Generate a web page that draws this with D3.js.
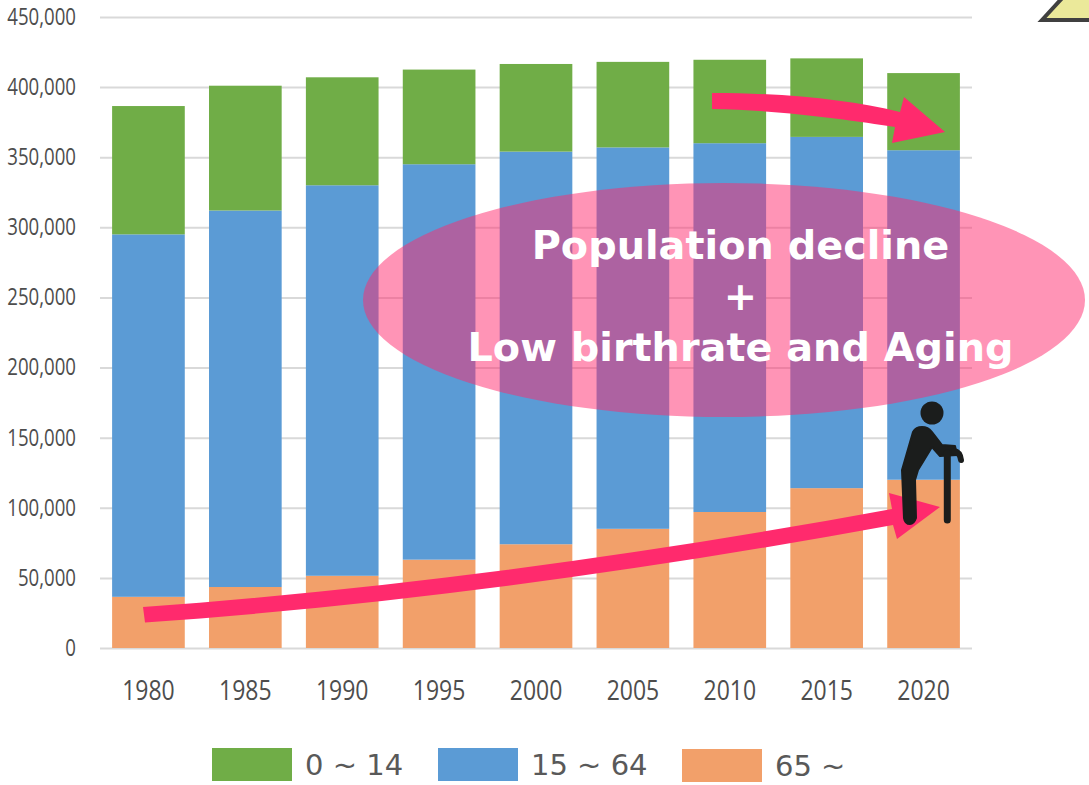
<!DOCTYPE html>
<html lang="en">
<head>
    <meta charset="UTF-8">
    <title>Population by age group</title>
    <script src="https://d3js.org/d3.v7.min.js"></script>
    <style>
        html, body { margin: 0; padding: 0; background: #fff; overflow: hidden; }
        svg { display: block; }
        .tick-label { font-family: "Open Sans", "Liberation Sans", sans-serif; fill: #4D4D4D; }
        .legend-label { font-family: "DejaVu Sans", sans-serif; font-size: 29px; fill: #595959; }
        .callout { font-family: "DejaVu Sans", sans-serif; font-weight: bold; font-size: 39.8px; fill: #fff; text-anchor: middle; }
    </style>
</head>
<body>
    <div id="chart"></div>
    <script>
        // Values
        const years = ["1980", "1985", "1990", "1995", "2000", "2005", "2010", "2015", "2020"];
        const age65plus = [36500, 43500, 51500, 63000, 74000, 85000, 97000, 114000, 120000];
        const age15to64 = [258500, 268500, 278500, 282000, 280000, 272000, 263000, 250500, 235000];
        const age0to14 = [91500, 89000, 77000, 67500, 62500, 61000, 59500, 56000, 55000];
        const yTicks = [0, 50000, 100000, 150000, 200000, 250000, 300000, 350000, 400000, 450000];

        const seriesNames = ["65 ~", "15 ~ 64", "0 ~ 14"];
        const seriesColors = ["#F2A06A", "#5B9BD5", "#70AD47"];

        const width = 1089, height = 785;
        const plot = {left: 100, right: 972, top: 17, bottom: 648};

        const svg = d3.select("#chart").append("svg")
            .attr("width", width)
            .attr("height", height);

        const x = d3.scaleBand().domain(years).range([plot.left, plot.right]).paddingInner(0.25).paddingOuter(0.125);
        const y = d3.scaleLinear().domain([0, 450000]).range([plot.bottom, plot.top]);

        // the original labels are a narrow face, so squeeze the installed one
        function narrow(sel, factor) {
            sel.each(function() {
                d3.select(this)
                    .attr("textLength", this.getComputedTextLength() * factor)
                    .attr("lengthAdjust", "spacingAndGlyphs");
            });
        }

        // Gridlines and y labels
        const yAxis = svg.append("g")
            .attr("transform", `translate(${plot.left},0)`)
            .call(d3.axisLeft(y).tickValues(yTicks).tickSize(0).tickPadding(24).tickFormat(d3.format(",")));
        yAxis.select(".domain").remove();
        yAxis.selectAll("text").attr("class", "tick-label").style("font-size", "23px").attr("fill", null).call(narrow, 0.81);
        yAxis.selectAll(".tick").append("line")
            .attr("x2", plot.right - plot.left)
            .attr("stroke", "#D9D9D9")
            .attr("stroke-width", 2);

        // Stacked bars
        const rows = years.map((year, i) => ({year, a: age65plus[i], b: age15to64[i], c: age0to14[i]}));
        const stacked = d3.stack().keys(["a", "b", "c"])(rows);

        svg.append("g").selectAll("g")
            .data(stacked)
            .join("g")
            .attr("fill", (d, i) => seriesColors[i])
            .selectAll("rect")
            .data(d => d)
            .join("rect")
            .attr("x", d => x(d.data.year))
            .attr("width", x.bandwidth())
            .attr("y", d => y(d[1]))
            .attr("height", d => y(d[0]) - y(d[1]));

        // x labels
        const xAxis = svg.append("g")
            .attr("transform", `translate(0,${plot.bottom})`)
            .call(d3.axisBottom(x).tickSize(0));
        xAxis.select(".domain").remove();
        xAxis.selectAll("text")
            .attr("class", "tick-label")
            .style("font-size", "28px")
            .attr("fill", null)
            .attr("y", 52)
            .attr("dy", 0)
            .call(narrow, 0.82);

        // Legend
        const legendItems = [
            {name: seriesNames[2], color: seriesColors[2], x: 212, y: 748},
            {name: seriesNames[1], color: seriesColors[1], x: 438, y: 748},
            {name: seriesNames[0], color: seriesColors[0], x: 682, y: 749}
        ];
        const legend = svg.append("g").selectAll("g")
            .data(legendItems)
            .join("g")
            .attr("transform", d => `translate(${d.x},${d.y})`);
        legend.append("rect").attr("width", 80).attr("height", 33).attr("fill", d => d.color);
        legend.append("text").attr("class", "legend-label").attr("x", 93).attr("y", 27).text(d => d.name);

        // Annotations drawn over the chart
        const accent = "#FF2A6D";

        svg.append("path")
            .attr("d", "M1042,20 L1065,-5 L1095,-5 L1095,20 Z")
            .attr("fill", "#EBE99A")
            .attr("stroke", "#404040")
            .attr("stroke-width", 4);

        svg.append("ellipse")
            .attr("cx", 724).attr("cy", 300)
            .attr("rx", 361).attr("ry", 117)
            .attr("fill", accent).attr("fill-opacity", 0.5);

        svg.append("path")
            .attr("fill", accent)
            .attr("d", "M712,93 C790,93 850,100 900,112 L904,97 L945,132 L892,143 L895,127 C850,120 780,110 712,109 Z");

        svg.append("path")
            .attr("fill", accent)
            .attr("d", "M143,607 C393,589 642,555 892,509 L889,493 L940,507 L897,539 L893,525 C642,571 393,605 145,622.6 Z");

        const callout = ["Population decline", "+", "Low birthrate and Aging"];
        svg.append("g").selectAll("text")
            .data(callout)
            .join("text")
            .attr("class", "callout")
            .attr("x", 740.5)
            .attr("y", (d, i) => 259 + i * 51)
            .text(d => d);

        // Person with a cane
        const ink = "#1B1D1C";
        const person = svg.append("g");
        person.append("circle").attr("cx", 932).attr("cy", 413).attr("r", 11.5).attr("fill", ink);
        person.append("path")
            .attr("fill", ink)
            .attr("stroke", ink)
            .attr("stroke-width", 2)
            .attr("stroke-linejoin", "round")
            .attr("d", "M922,427 Q928,427 932,432 L942,445 L955,446 L957,455 L940,456 L932,447 L918,470 L915,480 L916,518 Q914,524 910,524 Q905,524 904,518 L902,470 L913,432 Q916,427 922,427 Z");
        person.append("path")
            .attr("fill", "none")
            .attr("stroke", ink)
            .attr("stroke-width", 6)
            .attr("stroke-linecap", "round")
            .attr("d", "M954,451 Q960,452 961,460");
        person.append("path")
            .attr("fill", "none")
            .attr("stroke", ink)
            .attr("stroke-width", 7)
            .attr("stroke-linecap", "round")
            .attr("d", "M947.3,453 L947.3,520");
    </script>
</body>
</html>
